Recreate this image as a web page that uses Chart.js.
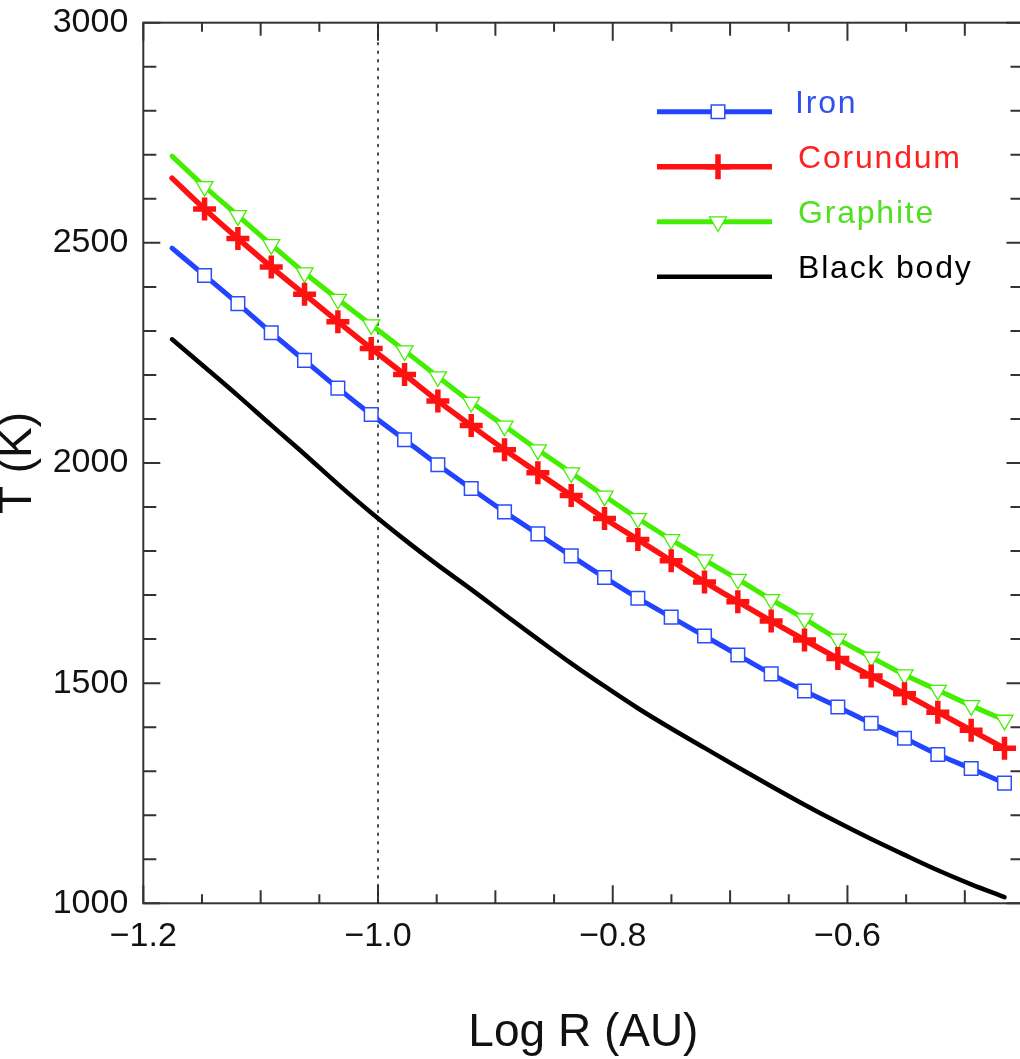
<!DOCTYPE html>
<html>
<head>
<meta charset="utf-8">
<script src="https://cdn.jsdelivr.net/npm/chart.js@4.4.1/dist/chart.umd.min.js"></script>
<style>
  html, body { margin: 0; padding: 0; background: #fff; overflow: hidden; }
  #wrap { width: 1020px; height: 1059px; overflow: hidden; }
  canvas { display: block; }
</style>
</head>
<body>
<div id="wrap"><canvas id="chart" width="1041" height="1059" style="width:1041px;height:1059px"></canvas></div>
<script>
/* ====== DATA ====== */
const logR = [-1.1755, -1.1478, -1.1194, -1.0910, -1.0626, -1.0342, -1.0058, -0.9774, -0.9490,
              -0.9206, -0.8922, -0.8638, -0.8354, -0.8070, -0.7786, -0.7502, -0.7218, -0.6934,
              -0.6650, -0.6366, -0.6082, -0.5798, -0.5514, -0.5230, -0.4946, -0.4662];

const iron      = [2488, 2426, 2362, 2296, 2233, 2170, 2110, 2053, 1996, 1942, 1889, 1839, 1789,
                   1740, 1693, 1650, 1607, 1564, 1521, 1482, 1446, 1409, 1375, 1338, 1306, 1273];
const corundum  = [2647, 2577, 2510, 2445, 2383, 2321, 2260, 2201, 2141, 2085, 2030, 1978, 1926,
                   1874, 1826, 1778, 1730, 1685, 1641, 1598, 1556, 1516, 1476, 1434, 1393, 1352];
const graphite  = [2697, 2628, 2562, 2496, 2432, 2372, 2314, 2255, 2196, 2138, 2084, 2030, 1978,
                   1925, 1874, 1826, 1780, 1736, 1690, 1646, 1600, 1559, 1519, 1484, 1449, 1416];
const blackBody = [2281, 2218, 2153, 2086, 2020, 1952, 1887, 1826, 1768, 1713, 1656, 1600, 1545,
                   1493, 1443, 1397, 1353, 1309, 1266, 1224, 1184, 1146, 1110, 1075, 1043, 1014];

const seriesNames = ["Iron", "Corundum", "Graphite", "Black body"];
const refLineX = -1.0;

// axis ticks
const xMajorTicks = [-1.2, -1.0, -0.8, -0.6];
const xMidTicks   = [-1.1, -0.9, -0.7, -0.5];
const xMinorTicks = [-1.15, -1.05, -0.95, -0.85, -0.75, -0.65, -0.55];
const yMajorTicks = [1000, 1500, 2000, 2500, 3000];
const yMinorTicks = [1100, 1200, 1300, 1400, 1600, 1700, 1800, 1900,
                     2100, 2200, 2300, 2400, 2600, 2700, 2800, 2900];

/* ====== STYLE ====== */
const FONT = "'Liberation Sans', Arial, Helvetica, sans-serif";
const textColors = ["#3050f0", "#ff2020", "#50e020", "#000000"];

const pts = arr => logR.map((x, i) => ({ x: x, y: arr[i] }));
const skipFirst = r => ctx => ctx.dataIndex === 0 ? 0 : r;

const datasets = [
  { label: seriesNames[0], data: pts(iron), borderColor: "#2244ff", borderWidth: 5,
    pointStyle: "rect", pointRadius: skipFirst(9.6), pointBorderWidth: 1.5,
    pointBorderColor: "#2a4cff", pointBackgroundColor: "#ffffff", pointRotation: 0 },
  { label: seriesNames[1], data: pts(corundum), borderColor: "#ff1111", borderWidth: 5.5,
    pointStyle: "cross", pointRadius: skipFirst(11.5), pointBorderWidth: 5.5,
    pointBorderColor: "#ff1111", pointBackgroundColor: "#ff1111", pointRotation: 0 },
  { label: seriesNames[2], data: pts(graphite), borderColor: "#44ee00", borderWidth: 5,
    pointStyle: "triangle", pointRadius: skipFirst(9.8), pointBorderWidth: 1.3,
    pointBorderColor: "#44ee00", pointBackgroundColor: "#ffffff", pointRotation: 180 },
  { label: seriesNames[3], data: pts(blackBody), borderColor: "#000000", borderWidth: 4.5,
    pointRadius: 0, pointStyle: false },
  { label: "ref", data: [{ x: refLineX, y: 1000 }, { x: refLineX, y: 3000 }],
    borderColor: "#222222", borderWidth: 1.6, borderDash: [2, 6.5], pointRadius: 0 }
];
datasets.forEach(d => {
  d.fill = false;
  d.borderCapStyle = "round";
  d.borderJoinStyle = "round";
  d.cubicInterpolationMode = "monotone";
});

/* ====== FRAME + INWARD TICKS ====== */
const frameTicks = {
  id: "frameTicks",
  beforeDatasetsDraw(chart) {
    const { ctx, chartArea: a, scales: { x, y } } = chart;
    ctx.save();
    ctx.strokeStyle = "#333";
    ctx.lineWidth = 2;
    ctx.strokeRect(a.left, a.top, a.right - a.left, a.bottom - a.top);
    ctx.beginPath();
    const xt = (v, len) => {
      const px = x.getPixelForValue(v);
      ctx.moveTo(px, a.bottom); ctx.lineTo(px, a.bottom - len);
      ctx.moveTo(px, a.top); ctx.lineTo(px, a.top + len);
    };
    const yt = (v, len) => {
      const py = y.getPixelForValue(v);
      ctx.moveTo(a.left, py); ctx.lineTo(a.left + len, py);
      ctx.moveTo(a.right, py); ctx.lineTo(a.right - len, py);
    };
    xMajorTicks.forEach(v => xt(v, 18));
    xMidTicks.forEach(v => xt(v, 13));
    xMinorTicks.forEach(v => xt(v, 9));
    yMajorTicks.forEach(v => yt(v, 17));
    yMinorTicks.forEach(v => yt(v, 13));
    ctx.stroke();
    ctx.restore();
  }
};

/* ====== LEGEND (top right) ====== */
const legendBox = {
  id: "legendBox",
  afterDraw(chart) {
    const { ctx } = chart;
    ctx.save();
    chart.data.datasets.slice(0, 4).forEach((d, i) => {
      const ly = 111.7 + i * 55;
      ctx.strokeStyle = d.borderColor;
      ctx.lineWidth = d.borderWidth;
      ctx.lineCap = "butt";
      ctx.beginPath();
      ctx.moveTo(657, ly); ctx.lineTo(772, ly);
      ctx.stroke();
      if (d.pointStyle) {
        ctx.fillStyle = d.pointBackgroundColor;
        ctx.strokeStyle = d.pointBorderColor;
        ctx.lineWidth = d.pointBorderWidth;
        const r = d.pointStyle === "cross" ? 12.5 : d.pointRadius({ dataIndex: 1 });
        Chart.helpers.drawPoint(ctx, {
          pointStyle: d.pointStyle, rotation: d.pointRotation, radius: r,
          borderWidth: d.pointBorderWidth
        }, 718, ly);
      }
      ctx.fillStyle = textColors[i];
      ctx.font = "32px " + FONT;
      ctx.letterSpacing = "1.8px";
      ctx.textBaseline = "alphabetic";
      ctx.textAlign = "left";
      ctx.fillText(d.label, i === 0 ? 795 : 798, ly + 1);
    });
    ctx.restore();
  }
};

const fmt = v => (v < 0 ? "\u2212" : "") + Math.abs(v).toFixed(1);
const noPad = s => { s.paddingTop = 0; s.paddingBottom = 0; s.paddingLeft = 0; s.paddingRight = 0; };

new Chart(document.getElementById("chart"), {
  type: "line",
  data: { datasets: datasets },
  options: {
    responsive: false,
    animation: false,
    layout: { padding: { top: 22.7, right: 17.5, left: 0, bottom: 0 } },
    plugins: { legend: { display: false }, tooltip: { enabled: false } },
    scales: {
      x: {
        type: "linear", min: -1.2, max: -0.45,
        grid: { display: false, drawTicks: false },
        border: { display: false },
        afterBuildTicks: s => { s.ticks = xMajorTicks.map(v => ({ value: v })); },
        ticks: { padding: 13, maxRotation: 0, autoSkip: false, color: "#111",
                 font: { family: FONT, size: 34 }, callback: v => fmt(v) },
        title: { display: true, text: "Log R (AU)", color: "#111", padding: 0,
                 font: { family: FONT, size: 46, lineHeight: 1.13 } },
        afterFit: s => { s.height = 155.7; noPad(s); }
      },
      y: {
        type: "linear", min: 1000, max: 3000,
        grid: { display: false, drawTicks: false },
        border: { display: false },
        afterBuildTicks: s => { s.ticks = yMajorTicks.map(v => ({ value: v })); },
        ticks: { padding: 15, color: "#111", font: { family: FONT, size: 34 },
                 callback: v => String(v) },
        title: { display: true, text: "T (K)", color: "#111", padding: 0,
                 font: { family: FONT, size: 46, lineHeight: 0.78 } },
        afterFit: s => { s.width = 143.3; noPad(s); }
      }
    }
  },
  plugins: [frameTicks, legendBox]
});
</script>
</body>
</html>
